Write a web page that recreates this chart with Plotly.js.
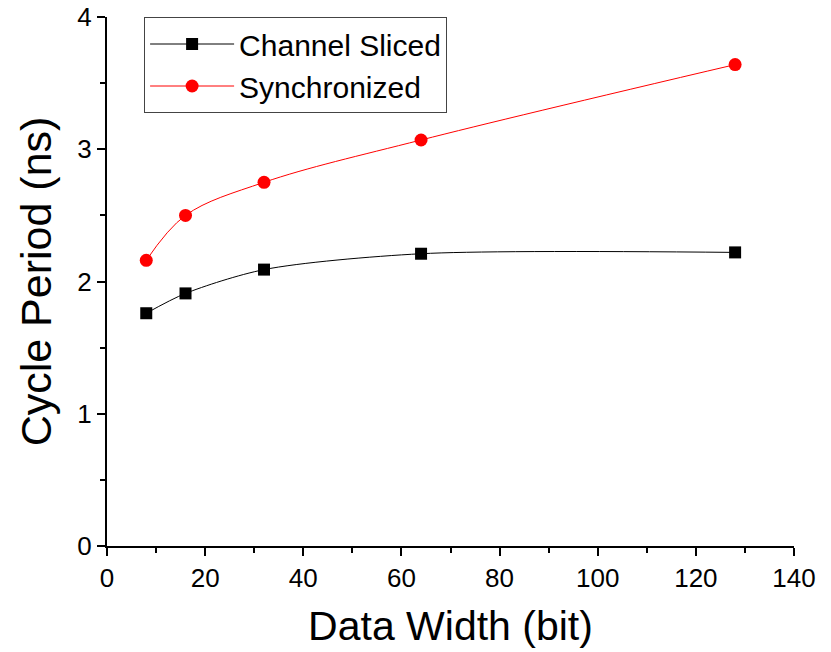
<!DOCTYPE html>
<html>
<head>
<meta charset="utf-8">
<script src="https://cdn.plot.ly/plotly-3.0.1.min.js"></script>
<style>html,body{margin:0;padding:0;background:#fff;}#chart{width:831px;height:652px;}</style>
</head>
<body>
<div id="chart"></div>
<script>
const dataWidth = [8, 16, 32, 64, 128];
const channelSliced = [1.76, 1.91, 2.09, 2.21, 2.22];
const synchronized = [2.16, 2.50, 2.75, 3.07, 3.64];
const seriesNames = ["Channel Sliced", "Synchronized"];

const traces = [
  {x: dataWidth, y: channelSliced, name: seriesNames[0], type: "scatter", mode: "lines+markers",
   line: {color: "#000000", width: 1, shape: "spline", smoothing: 0.8},
   marker: {symbol: "square", size: 12, color: "#000000"}},
  {x: dataWidth, y: synchronized, name: seriesNames[1], type: "scatter", mode: "lines+markers",
   line: {color: "#ff0000", width: 1, shape: "spline", smoothing: 1},
   marker: {symbol: "circle", size: 13, color: "#ff0000"}}
];

const fam = "Liberation Sans, Arial, sans-serif";
const axisFont = {family: fam, size: 26, color: "#000"};
const layout = {
  width: 831, height: 652,
  margin: {l: 107, r: 37, t: 17, b: 106},
  paper_bgcolor: "#fff", plot_bgcolor: "#fff",
  font: {family: fam, color: "#000"},
  showlegend: true,
  legend: {x: 0.054, y: 1.0, xanchor: "left", yanchor: "top",
           bordercolor: "#444", borderwidth: 1, bgcolor: "#fff",
           font: {size: 30, family: fam},
           tracegroupgap: 0, itemwidth: 84},
  xaxis: {range: [0, 140], dtick: 20, tick0: 0, showgrid: false, zeroline: false,
          showline: true, linecolor: "#000", linewidth: 2,
          ticks: "outside", ticklen: 8, tickwidth: 2, tickcolor: "#000",
          minor: {dtick: 10, ticks: "outside", ticklen: 5, tickwidth: 2, tickcolor: "#000", showgrid: false},
          tickfont: axisFont,
          title: {text: "Data Width (bit)", font: {size: 41, family: fam}, standoff: 19}},
  yaxis: {range: [0, 4], dtick: 1, tick0: 0, showgrid: false, zeroline: false,
          showline: true, linecolor: "#000", linewidth: 2,
          ticks: "outside", ticklen: 8, tickwidth: 2, tickcolor: "#000",
          minor: {dtick: 0.5, ticks: "outside", ticklen: 5, tickwidth: 2, tickcolor: "#000", showgrid: false},
          tickfont: axisFont,
          title: {text: "Cycle Period (ns)", font: {size: 43, family: fam}, standoff: 12}}
};

Plotly.newPlot("chart", traces, layout, {displayModeBar: false, staticPlot: true});
</script>
</body>
</html>
